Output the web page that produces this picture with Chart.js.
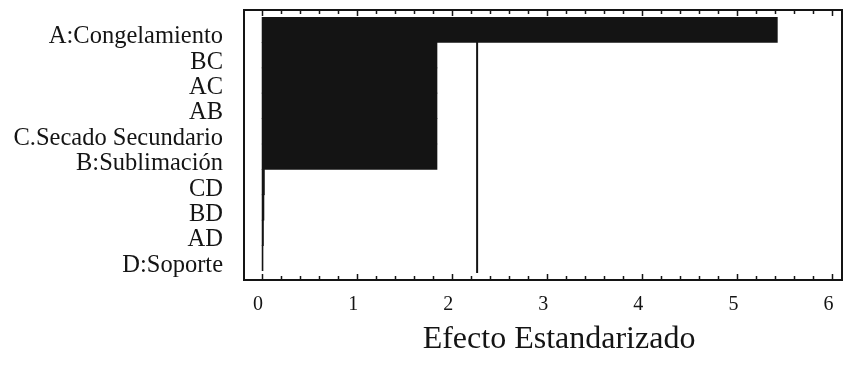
<!DOCTYPE html>
<html>
<head>
<meta charset="utf-8">
<script src="https://cdn.jsdelivr.net/npm/chart.js@4/dist/chart.umd.min.js"></script>
<style>
html, body { margin: 0; padding: 0; background: #ffffff; overflow: hidden; }
#wrap { width: 843px; height: 365px; position: relative; }
</style>
</head>
<body>
<div id="wrap"><canvas id="c"></canvas></div>
<script>
const categories = ['A:Congelamiento', 'BC', 'AC', 'AB', 'C.Secado Secundario', 'B:Sublimación', 'CD', 'BD', 'AD', 'D:Soporte'];
const effects = [5.42, 1.84, 1.84, 1.84, 1.84, 1.84, 0.025, 0.02, 0.015, 0.01];
const criticalValue = 2.262;
const xTickValues = [0, 1, 2, 3, 4, 5, 6];
const xTitle = 'Efecto Estandarizado';

const INK = '#141414';
const FONT = "'Liberation Serif', 'Times New Roman', serif";

const framePlugin = {
  id: 'paretoFrame',
  beforeDatasetsDraw(chart) {
    const { ctx, chartArea: a, scales: { x } } = chart;
    const px = x.getPixelForValue(criticalValue);
    ctx.save();
    ctx.strokeStyle = INK;
    ctx.lineWidth = 2;
    ctx.beginPath();
    ctx.moveTo(px, a.top);
    ctx.lineTo(px, a.bottom + 2);
    ctx.stroke();
    ctx.restore();
  },
  afterDatasetsDraw(chart) {
    const { ctx, chartArea: a, scales: { x } } = chart;
    const top = a.top - 7;
    const bottom = a.bottom + 9;
    ctx.save();
    ctx.strokeStyle = INK;
    ctx.lineWidth = 2;
    ctx.strokeRect(a.left, top, a.right - a.left, bottom - top);
    ctx.lineWidth = 1.5;
    ctx.beginPath();
    for (let i = 0; i <= 30; i++) {
      const v = i / 5;
      const len = (i % 5 === 0) ? 6 : 4;
      const px = Math.round(x.getPixelForValue(v)) + 0.5;
      ctx.moveTo(px, top);
      ctx.lineTo(px, top + len);
      ctx.moveTo(px, bottom);
      ctx.lineTo(px, bottom - len);
    }
    ctx.stroke();
    ctx.restore();
  }
};

new Chart(document.getElementById('c'), {
  type: 'bar',
  data: {
    labels: categories,
    datasets: [{
      data: effects,
      backgroundColor: INK,
      borderWidth: 0,
      barPercentage: 1,
      categoryPercentage: 1
    }]
  },
  options: {
    indexAxis: 'y',
    responsive: true,
    maintainAspectRatio: false,
    animation: false,
    layout: { padding: { top: 17, right: 1, left: 0, bottom: 0 } },
    plugins: { legend: { display: false }, tooltip: { enabled: false } },
    scales: {
      x: {
        type: 'linear',
        min: -0.19,
        max: 6.1,
        grid: { display: false, drawTicks: false },
        border: { display: false },
        afterBuildTicks(scale) { scale.ticks = xTickValues.map(v => ({ value: v })); },
        afterFit(scale) {
          scale.height = 94;
          scale.paddingLeft = 0; scale.paddingRight = 0;
          if (!scale._titleShifted) {
            const orig = scale.drawTitle;
            scale.drawTitle = function (area) {
              const ctx = this.ctx;
              ctx.save();
              ctx.translate(16, 0);
              orig.call(this, area);
              ctx.restore();
            };
            scale._titleShifted = true;
          }
        },
        ticks: {
          color: INK,
          font: { family: FONT, size: 20 },
          padding: 22,
          labelOffset: -4,
          maxRotation: 0,
          autoSkip: false
        },
        title: {
          display: true,
          text: xTitle,
          color: INK,
          font: { family: FONT, size: 32 },
          padding: { top: 0, bottom: 6 }
        }
      },
      y: {
        type: 'category',
        grid: { display: false, drawTicks: false },
        border: { display: false },
        afterFit(scale) {
          scale.width = 244;
          scale.paddingTop = 0; scale.paddingBottom = 0;
        },
        ticks: {
          color: INK,
          font: { family: FONT, size: 24.5 },
          padding: 21,
          labelOffset: 7,
          autoSkip: false
        }
      }
    }
  },
  plugins: [framePlugin]
});
</script>
</body>
</html>
